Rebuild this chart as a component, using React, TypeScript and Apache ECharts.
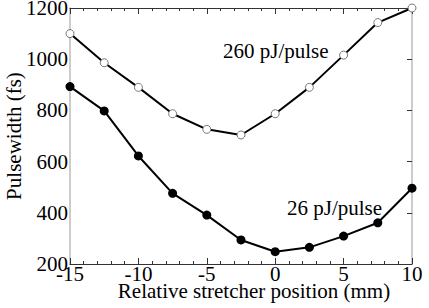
import React, { useEffect, useRef } from "react";
import * as echarts from "echarts";

const positions = [-15, -12.5, -10, -7.5, -5, -2.5, 0, 2.5, 5, 7.5, 10];
const highEnergy = [1100, 986, 890, 787, 726, 704, 787, 890, 1016, 1143, 1200];
const lowEnergy = [893, 798, 622, 476, 391, 294, 248, 265, 309, 361, 496];
const highLabel = "260 pJ/pulse";
const lowLabel = "26 pJ/pulse";
const xTitle = "Relative stretcher position (mm)";
const yTitle = "Pulsewidth (fs)";

const FONT = "'Liberation Serif', 'Times New Roman', serif";

export default function App() {
  const ref = useRef<HTMLDivElement>(null);
  useEffect(() => {
    if (!ref.current) return;
    const chart = echarts.init(ref.current, null, { renderer: "svg" });
    const xBase = {
      type: "value" as const,
      min: -15,
      max: 10,
      interval: 5,
      splitLine: { show: false },
      minorTick: { show: true, splitNumber: 5, length: 3, lineStyle: { color: "#333" } },
      axisTick: { show: true, inside: true, length: 6, lineStyle: { color: "#333" } },
      axisLine: { show: true, onZero: false, lineStyle: { color: "#333", width: 1 } },
    };
    const yBase = {
      type: "value" as const,
      min: 200,
      max: 1200,
      interval: 200,
      splitLine: { show: false },
      axisLine: { show: true, onZero: false, lineStyle: { color: "#bbb", width: 1.5 } },
    };
    chart.setOption({
      animation: false,
      backgroundColor: "#fff",
      grid: { left: 70, right: 17, top: 8, bottom: 44, containLabel: false, outerBoundsMode: "none" },
      xAxis: [
        {
          ...xBase,
          position: "bottom",
          name: xTitle,
          nameLocation: "middle",
          nameGap: 22,
          nameMoveOverlap: false,
          nameTextStyle: { fontFamily: FONT, fontSize: 21, lineHeight: 10, color: "#000", padding: [0, 0, 0, 26] },
          axisLabel: { fontFamily: FONT, fontSize: 21, lineHeight: 10, color: "#000", margin: 5, formatter: (v: number) => String(v) },
        },
        { ...xBase, position: "top", axisLabel: { show: false } },
      ],
      yAxis: [
        {
          ...yBase,
          position: "left",
          name: yTitle,
          nameLocation: "middle",
          nameGap: 46,
          nameMoveOverlap: false,
          nameTextStyle: { fontFamily: FONT, fontSize: 21, color: "#000" },
          axisTick: { show: false },
          axisLabel: { fontFamily: FONT, fontSize: 21, lineHeight: 10, color: "#000", margin: 2, formatter: (v: number) => String(v) },
        },
        {
          ...yBase,
          position: "right",
          axisTick: { show: true, inside: true, length: 5, lineStyle: { color: "#333" } },
          axisLabel: { show: false },
        },
      ],
      graphic: [
        {
          type: "text",
          left: 223,
          top: 40,
          style: { text: highLabel, font: `21px ${FONT}`, fill: "#000" },
        },
        {
          type: "text",
          left: 287,
          top: 197,
          style: { text: lowLabel, font: `21px ${FONT}`, fill: "#000" },
        },
      ],
      series: [
        {
          type: "line",
          data: positions.map((x, i) => [x, highEnergy[i]]),
          symbol: "circle",
          symbolSize: 8,
          lineStyle: { color: "#000", width: 2 },
          itemStyle: { color: "#fff", borderColor: "#777", borderWidth: 1 },
          z: 3,
        },
        {
          type: "line",
          data: positions.map((x, i) => [x, lowEnergy[i]]),
          symbol: "circle",
          symbolSize: 9,
          lineStyle: { color: "#000", width: 2 },
          itemStyle: { color: "#000" },
          z: 3,
        },
      ],
    });
    return () => chart.dispose();
  }, []);
  return (
    <div
      ref={ref}
      style={{ position: "absolute", left: 0, top: 0, width: 429, height: 308 }}
    />
  );
}
